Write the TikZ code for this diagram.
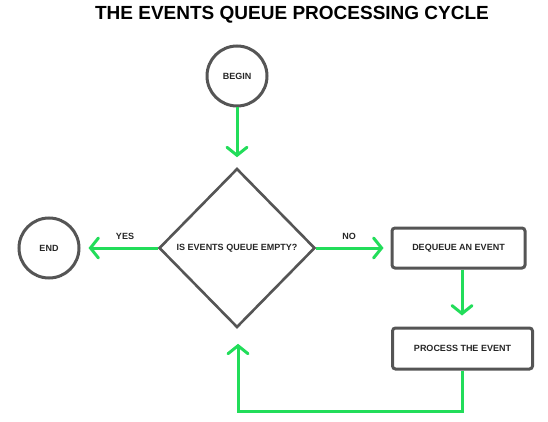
\documentclass[tikz,border=0pt]{standalone}
\usepackage{fontspec}
\setmainfont{Liberation Sans}
\usetikzlibrary{shapes.geometric,arrows.meta}
\definecolor{edgegray}{HTML}{555555}
\definecolor{flowgreen}{HTML}{22DD5A}
\begin{document}
\begin{tikzpicture}[x=1pt,y=-1pt,
  shapeline/.style={draw=edgegray,line width=3pt,font=\bfseries\fontsize{9}{10}\selectfont,text=black!85},
  termnode/.style={shapeline,circle,minimum size=60pt,inner sep=0pt},
  boxnode/.style={shapeline,rectangle,rounded corners=3pt,inner sep=0pt},
  decnode/.style={shapeline,diamond,aspect=1,inner sep=0pt,line width=2.6pt},
  flow/.style={draw=flowgreen,line width=3pt,-{Straight Barb[length=8pt,width=20pt,line width=3pt,line cap=round]}},
  lbl/.style={font=\bfseries\fontsize{9}{10}\selectfont,text=black!85}]
\useasboundingbox (0,0) rectangle (548,422);
\node[font=\bfseries\fontsize{19}{21}\selectfont] (title) at (292,15) {THE EVENTS QUEUE PROCESSING CYCLE};
\node[termnode] (begin) at (237,76) {BEGIN};
\node[decnode,minimum width=156pt,minimum height=159pt] (dec) at (237,248) {IS EVENTS QUEUE EMPTY?};
\node[termnode] (end) at (49,248) {END};
\node[boxnode,minimum width=133pt,minimum height=40pt] (deq) at (458.5,248) {DEQUEUE AN EVENT};
\node[boxnode,minimum width=140pt,minimum height=41pt] (proc) at (462.5,348.5) {PROCESS THE EVENT};
\coordinate (c1) at (462,411);
\coordinate (c2) at (238,411);
\draw[flow,shorten >=10pt] (begin) -- (dec);
\draw[flow,shorten >=8pt] (dec.west) -- (end.east);
\draw[flow,shorten >=7pt] (dec.east) -- (deq.west);
\draw[flow,shorten >=11pt] (deq.south -| c1) -- (proc.north -| c1);
\draw[flow,shorten >=15pt] (proc.south -| c1) -- (c1) -- (c2) -- (dec.south -| c2);
\node[lbl] (yes) at (125,236) {YES};
\node[lbl] (no) at (349,236) {NO};
\end{tikzpicture}
\end{document}
